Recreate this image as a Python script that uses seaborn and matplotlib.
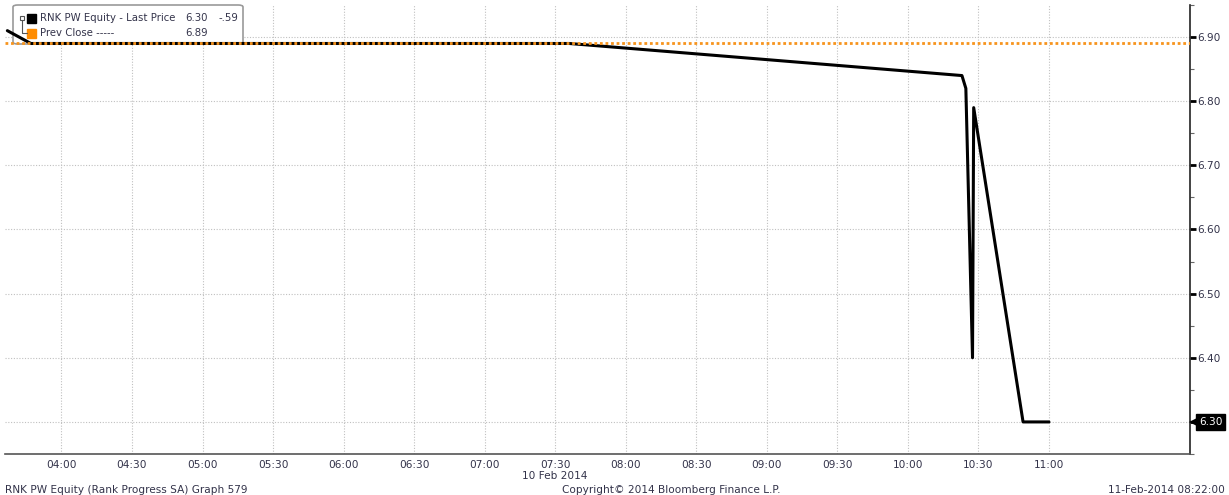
import pandas as pd
import numpy as np
import matplotlib
matplotlib.use('Agg')
import matplotlib.pyplot as plt
import matplotlib.dates as mdates
import matplotlib.transforms as mtransforms
from matplotlib.patches import FancyBboxPatch, Rectangle
from matplotlib.lines import Line2D
import seaborn as sns

# --- DATA (10 Feb 2014) ---
times = ['03:37:00', '03:47:00', '07:36:00', '10:23:00', '10:24:40', '10:27:30', '10:28:00', '10:49:00', '11:00:00']
prices = [6.91, 6.89, 6.89, 6.84, 6.82, 6.40, 6.79, 6.30, 6.30]
prev_close = 6.89
last_price = 6.30
change = -0.59
x_labels = ['04:00', '04:30', '05:00', '05:30', '06:00', '06:30', '07:00', '07:30',
            '08:00', '08:30', '09:00', '09:30', '10:00', '10:30', '11:00']
x_minor = ['03:45', '04:15', '04:45', '05:15', '05:45', '06:15', '06:45', '07:15',
           '07:45', '08:15', '08:45', '09:15', '09:45', '10:15', '10:45', '11:15']
y_ticks = [6.30, 6.40, 6.50, 6.60, 6.70, 6.80, 6.90]

day = '2014-02-10 '
df = pd.DataFrame({'time': pd.to_datetime([day + t for t in times], format='%Y-%m-%d %H:%M:%S'),
                   'price': prices})

# --- STYLE ---
sns.set_style('white')
plt.rcParams['font.family'] = ['DejaVu Sans']
txt_col = '#33334a'
grid_col = '#c0c0c0'
fs = 7.6

fig = plt.figure(figsize=(12.29, 4.95), dpi=100)
ax = fig.add_axes([5 / 1229, 1 - 454 / 495, (1190 - 5) / 1229, (454 - 5) / 495])

# prev close line and price line
ax.axhline(prev_close, color='#f7941d', lw=2, ls=(0, (1, 1)), zorder=4)
sns.lineplot(data=df, x='time', y='price', ax=ax, color='black', lw=2.2, zorder=3)

ax.set_xlim(pd.Timestamp(day + '03:36'), pd.Timestamp(day + '12:00'))
ax.set_ylim(6.25, 6.95)

# x axis: labels every 30 min up to 11:00, minor ticks in between
major_pos = mdates.date2num(pd.to_datetime([day + t for t in x_labels]))
minor_pos = mdates.date2num(pd.to_datetime([day + t for t in x_minor]))
ax.set_xticks(major_pos)
ax.set_xticklabels(x_labels)
ax.set_xticks(minor_pos, minor=True)
ax.tick_params(axis='x', which='both', direction='inout', length=5, width=1, colors='#444444',
               labelsize=fs, labelcolor=txt_col, pad=2)

# y axis on the right
ax.yaxis.tick_right()
ax.set_yticks(y_ticks)
ax.set_yticklabels([f'{v:.2f}' for v in y_ticks])
ax.yaxis.set_minor_locator(matplotlib.ticker.MultipleLocator(0.05))
ax.tick_params(axis='y', which='major', direction='out', length=4, width=2, colors='black',
               labelsize=fs, labelcolor=txt_col, pad=1)
ax.tick_params(axis='y', which='minor', direction='out', length=3, width=0.8, colors='#666666')
ax.set_xlabel('')
ax.set_ylabel('')

# the last price tag replaces the 6.30 label
for lbl in ax.get_yticklabels():
    if lbl.get_text() == '6.30':
        lbl.set_visible(False)

ax.grid(True, which='major', color=grid_col, lw=0.8, ls=(0, (1, 1.5)))
for s in ['top', 'left']:
    ax.spines[s].set_visible(False)
ax.spines['right'].set_color('#222222')
ax.spines['right'].set_linewidth(1.2)
ax.spines['bottom'].set_color('#555555')
ax.spines['bottom'].set_linewidth(1.2)

# last price tag: pointer touching the spine plus black box
ptr = mtransforms.offset_copy(ax.get_yaxis_transform(), fig=fig, x=4, y=0, units='dots')
ax.plot([1.0], [last_price], marker='<', color='black', ms=7, mew=0,
        transform=ptr, clip_on=False, zorder=6)
ax.annotate(f'{last_price:.2f}', xy=(1.0, last_price), xycoords=('axes fraction', 'data'),
            xytext=(6.5, 0), textcoords='offset points', va='center', ha='left',
            fontsize=fs, color='white',
            bbox=dict(boxstyle='square,pad=0.25', fc='black', ec='black'), annotation_clip=False)

# --- LEGEND BOX (figure pixel coords) ---
def fx(px):
    return px / 1229

def fy(py):
    return 1 - py / 495

tf = fig.transFigure
box = FancyBboxPatch((fx(13), fy(44)), fx(230), 39 / 495, boxstyle='round,pad=0,rounding_size=0.004',
                     transform=tf, fc='white', ec='#9a9a9a', lw=1.2, zorder=2, clip_on=False)
ax.add_patch(box)
ax.add_patch(Rectangle((fx(27), fy(23)), fx(9), 9 / 495, transform=tf, fc='black', ec='black',
                       zorder=5, clip_on=False))
ax.add_patch(Rectangle((fx(27), fy(38)), fx(9), 9 / 495, transform=tf, fc='#ff8c00', ec='#ff8c00',
                       zorder=5, clip_on=False))
ax.add_patch(Rectangle((fx(20), fy(20)), fx(4), 4 / 495, transform=tf, fc='white', ec='#555555',
                       lw=0.8, zorder=5, clip_on=False))
ax.add_line(Line2D([fx(22), fx(22), fx(27)], [fy(20), fy(33), fy(33)], transform=tf, color='#555555',
                   lw=0.8, zorder=5, clip_on=False))
ax.text(fx(40), fy(18), 'RNK PW Equity - Last Price', transform=tf, fontsize=7.3, color=txt_col,
        va='center', ha='left', zorder=6)
ax.text(fx(208), fy(18), f'{last_price:.2f}', transform=tf, fontsize=7.3, color=txt_col,
        va='center', ha='right', zorder=6)
ax.text(fx(238), fy(18), f'{change:.2f}'.replace('0.', '.'), transform=tf, fontsize=7.3, color=txt_col,
        va='center', ha='right', zorder=6)
ax.text(fx(40), fy(33), 'Prev Close -----', transform=tf, fontsize=7.3, color=txt_col,
        va='center', ha='left', zorder=6)
ax.text(fx(208), fy(33), f'{prev_close:.2f}', transform=tf, fontsize=7.3, color=txt_col,
        va='center', ha='right', zorder=6)

# --- FOOTER ---
fig.text(fx(555), fy(476), '10 Feb 2014', fontsize=fs, color=txt_col, ha='center', va='center')
fig.text(fx(5), fy(490), 'RNK PW Equity (Rank Progress SA) Graph 579', fontsize=fs, color=txt_col,
         ha='left', va='center')
fig.text(fx(671), fy(490), 'Copyright\u00a9 2014 Bloomberg Finance L.P.', fontsize=fs, color=txt_col,
         ha='center', va='center')
fig.text(fx(1225), fy(490), '11-Feb-2014 08:22:00', fontsize=fs, color=txt_col, ha='right', va='center')

fig.savefig('out.png', dpi=100)
